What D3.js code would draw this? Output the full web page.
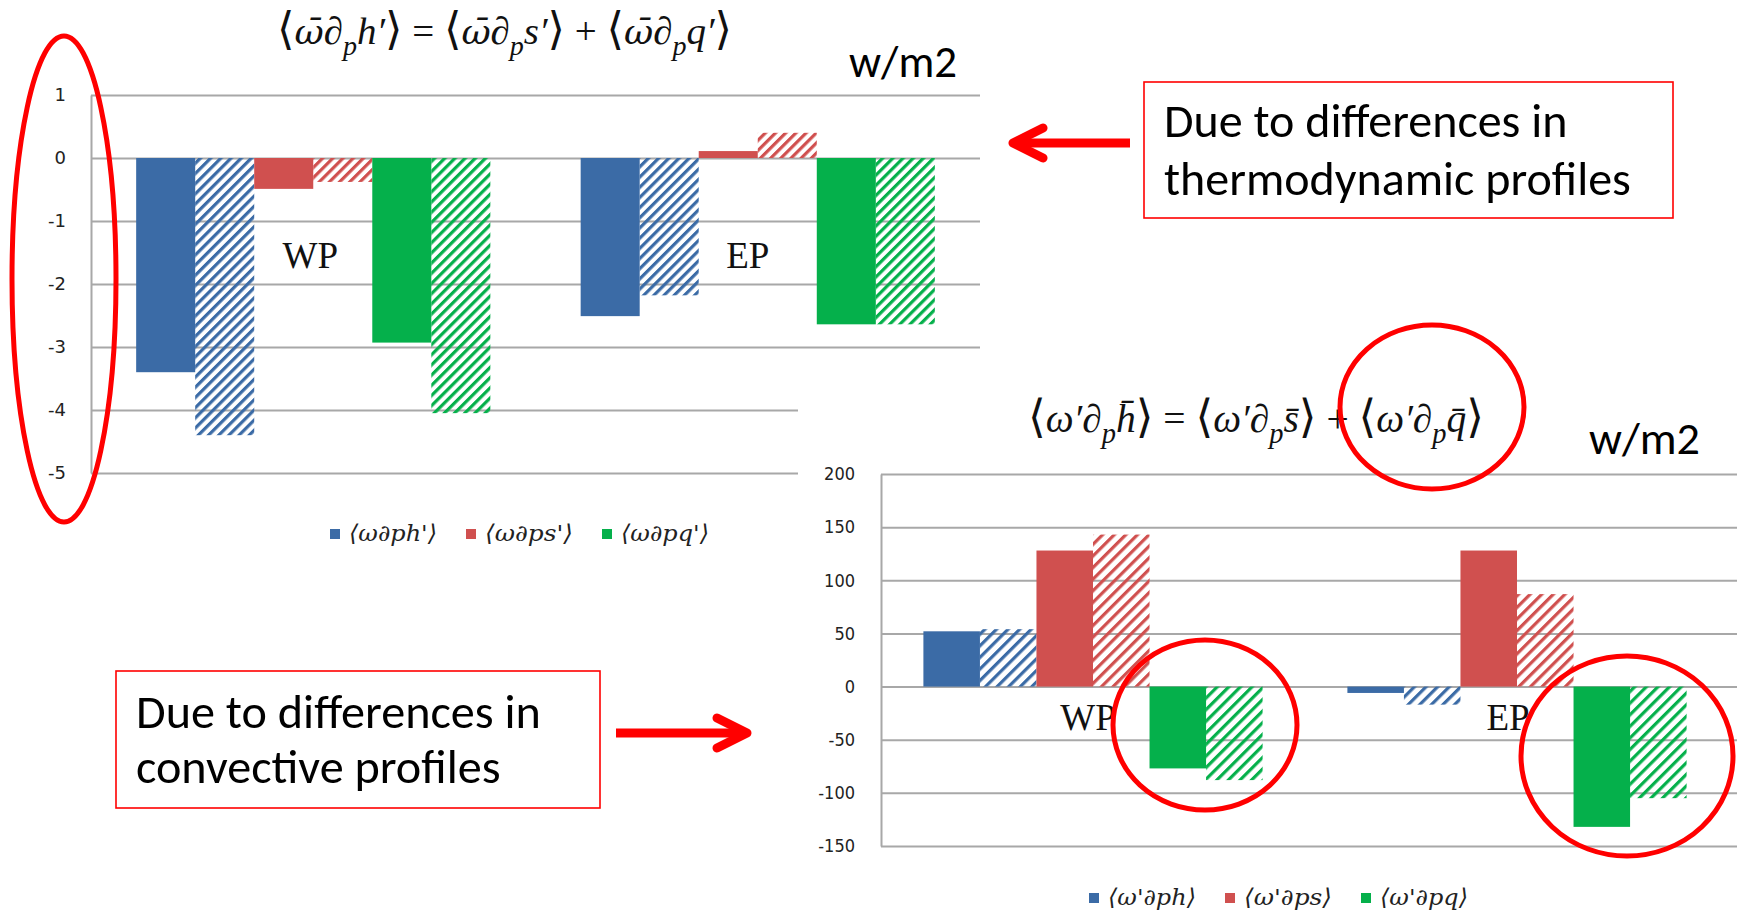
<!DOCTYPE html>
<html><head><meta charset="utf-8">
<script src="https://cdn.jsdelivr.net/npm/d3@7"></script>
<style>html,body{margin:0;padding:0;background:#fff;overflow:hidden}</style>
</head><body>
<svg id="c" width="1737" height="917" xmlns="http://www.w3.org/2000/svg"></svg>
<script>
// ---------------- data ----------------
const categories = ["WP", "EP"];
const barKeys = ["h", "hHatched", "s", "sHatched", "q", "qHatched"];
const topTicks = [1, 0, -1, -2, -3, -4, -5];
const botTicks = [200, 150, 100, 50, 0, -50, -100, -150];
const topLegend = ["⟨ω∂ph'⟩", "⟨ω∂ps'⟩", "⟨ω∂pq'⟩"];
const botLegend = ["⟨ω'∂ph⟩", "⟨ω'∂ps⟩", "⟨ω'∂pq⟩"];
// top chart (W/m2): solid and hatched bars per category [WP, EP]
const topH = [-3.40, -2.51];
const topHHatched = [-4.40, -2.18];
const topS = [-0.49, 0.11];
const topSHatched = [-0.38, 0.40];
const topQ = [-2.93, -2.64];
const topQHatched = [-4.05, -2.64];
// bottom chart (W/m2)
const botH = [52, -6];
const botHHatched = [54, -17];
const botS = [128, 128];
const botSHatched = [143, 87];
const botQ = [-77, -132];
const botQHatched = [-88, -105];
// annotation texts
const topFormula = [["⟨","b"],["ω̄","w"],["∂",""],["p","s"],["h′","i"],["⟩","b"],[" = ",""],["⟨","b"],["ω̄","w"],["∂",""],["p","s"],["s′","i"],["⟩","b"],[" + ",""],["⟨","b"],["ω̄","w"],["∂",""],["p","s"],["q′","i"],["⟩","b"]];
const botFormula = [["⟨","b"],["ω′","i"],["∂",""],["p","s"],["h̄","i"],["⟩","b"],[" = ",""],["⟨","b"],["ω′","i"],["∂",""],["p","s"],["s̄","i"],["⟩","b"],[" + ",""],["⟨","b"],["ω′","i"],["∂",""],["p","s"],["q̄","i"],["⟩","b"]];
const unitLabel = "w/m2";
const topBoxLines = ["Due to differences in", "thermodynamic profiles"];
const botBoxLines = ["Due to differences in", "convective profiles"];

// ---------------- styles ----------------
const colors = ["#3b6ba6", "#d0504f", "#05b04b"];
const gridColor = "#a8a8a8";
const annoRed = "#ff0000";

const svg = d3.select("#c");
svg.append("rect").attr("width", 1737).attr("height", 917).attr("fill", "#fff");
const defs = svg.append("defs");

function makeHatch(id, color, period, stripe) {
  const p = defs.append("pattern").attr("id", id)
    .attr("patternUnits", "userSpaceOnUse")
    .attr("width", period).attr("height", period)
    .attr("patternTransform", "rotate(45)");
  p.append("rect").attr("x", 0).attr("y", 0).attr("width", stripe).attr("height", period).attr("fill", color);
}
colors.forEach((c, i) => {
  makeHatch("ht" + i, c, 7.2, 3.2);
  makeHatch("hb" + i, c, 8.2, 3.2);
});

function drawChart(cfg) {
  const g = svg.append("g");
  const x0 = d3.scaleBand().domain(categories).range([cfg.left, cfg.right]).padding(0);
  const x1 = d3.scaleBand().domain(barKeys).range([0, x0.bandwidth()]).paddingInner(0).paddingOuter(cfg.outer);
  const y = d3.scaleLinear().domain(cfg.domain).range(cfg.yRange);

  const axis = d3.axisLeft(y).tickValues(cfg.ticks)
    .tickSize(-(cfg.gridRight - cfg.left)).tickSizeOuter(0)
    .tickPadding(cfg.pad).tickFormat(d => String(d));
  const ag = g.append("g").attr("transform", `translate(${cfg.left},0)`).call(axis);
  ag.select(".domain").attr("stroke", gridColor).attr("stroke-width", 2);
  ag.selectAll(".tick line").attr("stroke", gridColor).attr("stroke-width", 2);
  ag.selectAll(".tick text").attr("font-family", cfg.tickFamily)
    .attr("font-size", cfg.tickFont).attr("fill", "#222");

  // category labels (behind the bars)
  g.selectAll(".cat").data(categories).join("text")
    .attr("x", (d, i) => x0(d) + x0.bandwidth() / 2 + cfg.labelDx[i])
    .attr("y", y(cfg.labelValue))
    .attr("text-anchor", "middle")
    .attr("font-family", "'Liberation Serif', 'Times New Roman', serif")
    .attr("font-size", cfg.labelFont).attr("fill", "#111")
    .text(d => d);

  const rows = [];
  categories.forEach((c, i) => {
    barKeys.forEach((k, j) => {
      rows.push({ c, k, j, v: cfg.series[j][i] });
    });
  });
  g.selectAll(".bar").data(rows).join("rect")
    .attr("x", d => x0(d.c) + x1(d.k))
    .attr("width", x1.bandwidth())
    .attr("y", d => Math.min(y(d.v), y(0)))
    .attr("height", d => Math.abs(y(d.v) - y(0)))
    .attr("fill", d => d.j % 2 === 0 ? colors[d.j / 2] : `url(#${cfg.hatch}${(d.j - 1) / 2})`);

  // legend
  const lg = g.append("g");
  cfg.legend.forEach((t, i) => {
    lg.append("rect").attr("x", cfg.legendX[i]).attr("y", cfg.legendY - 5)
      .attr("width", 10).attr("height", 10).attr("fill", colors[i]);
    lg.append("text").attr("x", cfg.legendX[i] + 19).attr("y", cfg.legendY + 7)
      .attr("font-family", "'DejaVu Serif', serif").attr("font-style", "italic")
      .attr("font-size", 23).attr("fill", "#222")
      .attr("textLength", 88).attr("lengthAdjust", "spacingAndGlyphs").text(t);
  });
  return g;
}

drawChart({
  left: 91, right: 980, gridRight: 980, outer: 0.765,
  domain: [-5, 1], yRange: [473, 95], ticks: topTicks, pad: 25,
  tickFont: 18, tickFamily: "'DejaVu Sans', sans-serif",
  series: [topH, topHHatched, topS, topSHatched, topQ, topQHatched],
  hatch: "ht", labelValue: -1.75, labelDx: [-3, -10], labelFont: 37,
  legend: topLegend, legendX: [330, 466, 602], legendY: 534
});

// white panel of the second chart overlapping the first one
svg.append("rect").attr("x", 798).attr("y", 360).attr("width", 939).attr("height", 557).attr("fill", "#fff");

drawChart({
  left: 881, right: 1729, gridRight: 1737, outer: 0.75,
  domain: [-150, 200], yRange: [846, 474], ticks: botTicks, pad: 26,
  tickFont: 18, tickFamily: "'DejaVu Sans Condensed', 'DejaVu Sans', sans-serif",
  series: [botH, botHHatched, botS, botSHatched, botQ, botQHatched],
  hatch: "hb", labelValue: -41, labelDx: [-5, -9], labelFont: 37,
  legend: botLegend, legendX: [1089, 1225, 1361], legendY: 898
});

// ---------------- annotations ----------------
function fitScale(node, x, y, targetW) {
  const bb = node.getBBox();
  const s = targetW / bb.width;
  d3.select(node).attr("transform", `translate(${x - bb.x * s},${y}) scale(${s})`);
}

function drawFormula(parts, x, baseY, targetW) {
  const S = 32;
  const g = svg.append("g");
  const t = g.append("text").attr("x", 0).attr("y", 0)
    .attr("font-family", "'Liberation Serif', 'DejaVu Serif', serif")
    .attr("font-size", S).attr("fill", "#111");
  let shift = 0;
  parts.forEach(([txt, kind]) => {
    const want = kind === "s" ? S * 0.28 : 0;
    const ts = t.append("tspan").text(txt).attr("dy", want - shift);
    shift = want;
    if (kind === "i" || kind === "s" || kind === "w") ts.attr("font-style", "italic");
    if (kind === "w") ts.attr("font-family", "'DejaVu Serif', serif").attr("font-size", S * 0.92);
    if (kind === "s") ts.attr("font-size", S * 0.72);
    if (kind === "b") ts.attr("font-size", S * 1.15).attr("font-family", "'DejaVu Sans ExtraLight', 'DejaVu Sans', sans-serif");
  });
  fitScale(g.node(), x, baseY, targetW);
}
drawFormula(topFormula, 277, 44, 455);
drawFormula(botFormula, 1028, 432, 456);

function unit(x, baseY, w) {
  const g = svg.append("g");
  g.append("text").attr("x", 0).attr("y", 0)
    .attr("font-family", "Carlito, Lato, sans-serif").attr("font-size", 40).attr("fill", "#000").text(unitLabel);
  fitScale(g.node(), x, baseY, w);
}
unit(849, 77, 108);
unit(1589, 454, 111);

function textBox(x, y, w, h, lines, tx, baselines, targetW, fitIndex) {
  svg.append("rect").attr("x", x).attr("y", y).attr("width", w).attr("height", h)
    .attr("fill", "#fff").attr("stroke", annoRed).attr("stroke-width", 1.6);
  const texts = lines.map((l, i) => svg.append("text").attr("x", tx).attr("y", baselines[i])
    .attr("font-family", "Carlito, Lato, sans-serif").attr("font-size", 40).attr("fill", "#000").text(l));
  const wNow = texts[fitIndex].node().getComputedTextLength();
  const fs = 40 * targetW / wNow;
  texts.forEach(t => t.attr("font-size", fs));
}
textBox(1144, 82, 529, 136, topBoxLines, 1164, [137, 195], 467, 1);
textBox(116, 671, 484, 137, botBoxLines, 136, [728, 783], 405, 0);

// arrows
function arrow(x1, x2, y, headBack, headHalf) {
  const dir = Math.sign(x2 - x1);
  const g = svg.append("g").attr("stroke", annoRed).attr("stroke-width", 9)
    .attr("stroke-linecap", "round").attr("stroke-linejoin", "round").attr("fill", "none");
  g.append("line").attr("x1", x1).attr("y1", y).attr("x2", x2 - dir * 3).attr("y2", y).attr("stroke-linecap", "butt");
  g.append("path").attr("d", d3.line()([[x2 - dir * headBack, y - headHalf], [x2, y], [x2 - dir * headBack, y + headHalf]]));
}
arrow(1130, 1013, 143, 30, 15);
arrow(616, 747, 733, 30, 15);

// red ellipses
const ellipses = [[64, 279, 52, 243], [1432, 407, 92, 82], [1205, 725, 92, 85], [1627, 756, 106, 100]];
svg.selectAll(".ell").data(ellipses).join("ellipse")
  .attr("cx", d => d[0]).attr("cy", d => d[1]).attr("rx", d => d[2]).attr("ry", d => d[3])
  .attr("fill", "none").attr("stroke", annoRed).attr("stroke-width", 5);
</script>
</body></html>
